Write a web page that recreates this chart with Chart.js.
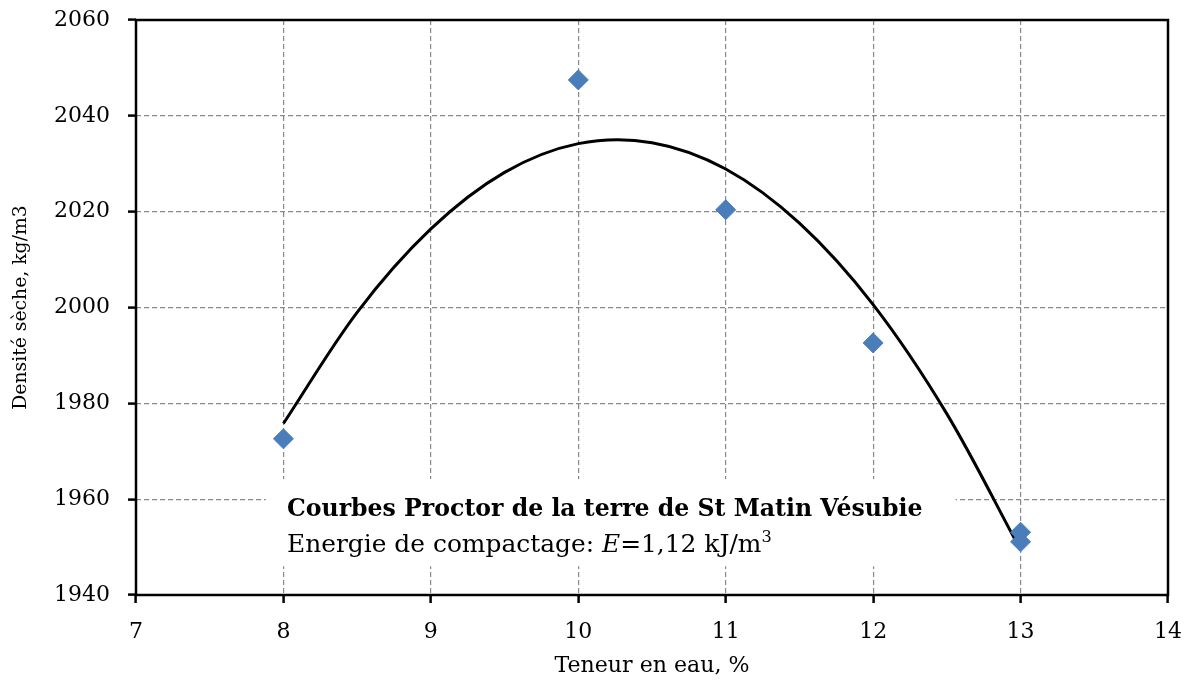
<!DOCTYPE html>
<html>
<head>
<meta charset="utf-8">
<script src="https://cdn.jsdelivr.net/npm/chart.js@4/dist/chart.umd.min.js"></script>
<style>
  html, body { margin: 0; padding: 0; background: #fff; }
  #wrap { width: 1192px; height: 684px; }
</style>
</head>
<body>
<div id="wrap"><canvas id="chart" width="1192" height="684"></canvas></div>
<script>
// measured points (water content %, dry density kg/m3)
const waterContent = [8, 10, 11, 12, 13, 13];
const dryDensity = [1972.6, 2047.5, 2020.4, 1992.6, 1953.1, 1951.1];

// trend curve
const trendX = [8, 8.5, 9, 9.5, 10, 10.5, 11, 11.5, 12, 12.5, 13];
const trendY = [1975.8, 1999.0, 2016.4, 2028.2, 2034.2, 2034.4, 2028.9, 2017.6, 2000.6, 1977.8, 1949.4];

const xTicks = [7, 8, 9, 10, 11, 12, 13, 14];
const yTicks = [1940, 1960, 1980, 2000, 2020, 2040, 2060];

const FONT = "'DejaVu Serif', 'Liberation Serif', serif";

// pick a font size so a text takes the given width
const measureCtx = document.createElement('canvas').getContext('2d');
function fitSize(text, weight, width) {
    measureCtx.font = weight + " 100px " + FONT;
    return Math.round(100 * width / measureCtx.measureText(text).width * 10) / 10;
}

const TITLE_LINE = 'Courbes Proctor de la terre de St Matin Vésubie';
const SUB_LINE = 'Energie de compactage: E=1,12 kJ/m3';
const boldSize = fitSize(TITLE_LINE, 'bold', 635);
const subSize = fitSize(SUB_LINE, 'normal', 490);
const xTitleSize = fitSize('Teneur en eau, %', 'normal', 195);
const yTitleSize = fitSize('Densité sèche, kg/m3', 'normal', 205);

// frame round the plot area + the text box
const framePlugin = {
    id: 'frame',
    beforeDatasetsDraw(chart) {
        const ctx = chart.ctx;
        const x = chart.scales.x, y = chart.scales.y;
        // white text box covering the grid
        const bx = x.getPixelForValue(7.88), by = y.getPixelForValue(1964.2);
        const bw = x.getPixelForValue(12.56) - bx, bh = y.getPixelForValue(1946) - by;
        ctx.save();
        ctx.fillStyle = '#fff';
        ctx.fillRect(bx, by, bw, bh);
        ctx.fillStyle = '#000';
        ctx.textBaseline = 'alphabetic';
        ctx.font = "bold " + boldSize + "px " + FONT;
        ctx.fillText(TITLE_LINE, 287, 516);
        let tx = 287;
        const parts = [
            ['Energie de compactage: ', 'normal', subSize, 0],
            ['E', 'italic', subSize, 0],
            ['=1,12 kJ/m', 'normal', subSize, 0],
            ['3', 'normal', subSize * 0.65, -10]
        ];
        parts.forEach(p => {
            ctx.font = p[1] + " " + p[2] + "px " + FONT;
            ctx.fillText(p[0], tx, 552 + p[3]);
            tx += ctx.measureText(p[0]).width;
        });
        ctx.restore();
    },
    afterDraw(chart) {
        const a = chart.chartArea, ctx = chart.ctx;
        ctx.save();
        ctx.strokeStyle = '#000';
        ctx.lineWidth = 2.5;
        ctx.strokeRect(a.left, a.top, a.right - a.left, a.bottom - a.top);
        ctx.restore();
    }
};

new Chart(document.getElementById('chart'), {
    type: 'scatter',
    data: {
        datasets: [
            {
                type: 'line',
                label: 'trend',
                data: trendX.map((v, i) => ({x: v, y: trendY[i]})),
                borderColor: '#000',
                borderWidth: 3,
                pointRadius: 0,
                tension: 0.33,
                fill: false,
                order: 2
            },
            {
                label: 'Proctor',
                data: waterContent.map((v, i) => ({x: v, y: dryDensity[i]})),
                backgroundColor: '#4A7EBB',
                borderColor: '#4A7EBB',
                pointStyle: 'rectRot',
                pointRadius: 10,
                order: 1
            }
        ]
    },
    options: {
        responsive: false,
        animation: false,
        layout: { padding: { top: 20, right: 24, left: 0, bottom: 0 } },
        plugins: { legend: { display: false }, tooltip: { enabled: false } },
        scales: {
            x: {
                type: 'linear',
                min: 7, max: 14,
                afterBuildTicks: s => { s.ticks = xTicks.map(v => ({value: v})); },
                afterFit: s => { s.height = 89; s.paddingLeft = 0; s.paddingRight = 0; },
                grid: {
                    color: '#888', lineWidth: 1.2,
                    tickLength: 8, tickColor: '#000', tickWidth: 2.5, tickBorderDash: [0, 0]
                },
                border: { display: false, dash: [5, 3] },
                ticks: { color: '#000', padding: 16, font: { family: FONT, size: 22 },
                         callback: v => String(v) },
                title: { display: true, text: 'Teneur en eau, %', color: '#000', padding: { top: 6 },
                         font: { family: FONT, size: xTitleSize } }
            },
            y: {
                min: 1940, max: 2060,
                afterBuildTicks: s => { s.ticks = yTicks.map(v => ({value: v})); },
                afterFit: s => { s.width = 136; s.paddingTop = 0; s.paddingBottom = 0; },
                grid: {
                    color: '#888', lineWidth: 1.2,
                    tickLength: 8, tickColor: '#000', tickWidth: 2.5, tickBorderDash: [0, 0]
                },
                border: { display: false, dash: [5, 3] },
                ticks: { color: '#000', padding: 18, font: { family: FONT, size: 22 },
                         callback: v => String(v) },
                title: { display: true, text: 'Densité sèche, kg/m3', color: '#000', padding: { top: 10, bottom: 0 },
                         font: { family: FONT, size: yTitleSize } }
            }
        }
    },
    plugins: [framePlugin]
});
</script>
</body>
</html>
